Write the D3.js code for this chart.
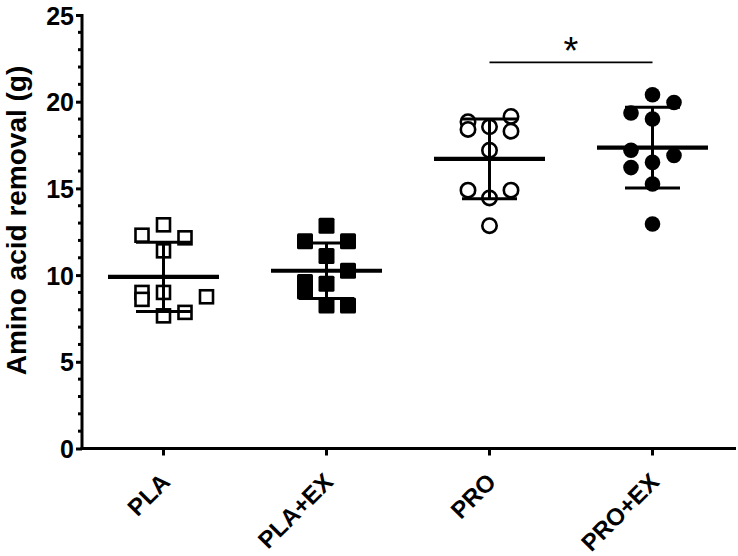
<!DOCTYPE html>
<html>
<head>
<meta charset="utf-8">
<script src="https://cdn.jsdelivr.net/npm/d3@7/dist/d3.min.js"></script>
<style>
  html, body { margin: 0; padding: 0; background: #fff; }
  svg { display: block; }
  text { font-family: Arial, "Liberation Sans", Helvetica, sans-serif; }
</style>
</head>
<body>
<svg id="chart" width="738" height="556"></svg>
<script>
// ---------- data ----------
const categories = ["PLA", "PLA+EX", "PRO", "PRO+EX"];
const plaValues   = [12.9, 12.3, 12.15, 11.4, 9.0, 9.0, 8.75, 8.6, 7.85, 7.65];
const plaLanes    = [0, -1, 1, 0, -1, 0, 2, -1, 1, 0];
const plaExValues = [12.85, 11.95, 11.95, 11.1, 10.25, 9.6, 9.05, 9.5, 8.25, 8.25];
const plaExLanes  = [0, -1, 1, 0, 1, -1, -1, 0, 0, 1];
const proValues   = [18.85, 19.15, 18.4, 18.55, 18.3, 17.2, 14.9, 14.9, 14.45, 12.85];
const proLanes    = [-1, 1, -1, 0, 1, 0, -1, 1, 0, 0];
const proExValues = [20.4, 19.95, 19.35, 19.0, 17.2, 16.9, 16.5, 16.2, 15.25, 12.95];
const proExLanes  = [0, 1, -1, 0, -1, 1, 0, -1, 0, 0];
const groupMeans  = [9.9, 10.25, 16.7, 17.35];
const groupSDs    = [2.0, 1.6, 2.3, 2.33];
const markerTypes = ["squareOpen", "squareFilled", "circleOpen", "circleFilled"];
const yTicks      = [0, 5, 10, 15, 20, 25];
const yLabel      = "Amino acid removal (g)";
const sigPair     = ["PRO", "PRO+EX"];
const sigLabel    = "*";

const groups = [
  { name: categories[0], values: plaValues,   lanes: plaLanes },
  { name: categories[1], values: plaExValues, lanes: plaExLanes },
  { name: categories[2], values: proValues,   lanes: proLanes },
  { name: categories[3], values: proExValues, lanes: proExLanes }
].map((g, i) => ({ ...g, mean: groupMeans[i], sd: groupSDs[i], marker: markerTypes[i] }));

// ---------- layout ----------
const svg = d3.select("#chart");
const plotLeft = 82, plotRight = 734, plotTop = 15, plotBottom = 448.5;

const x = d3.scaleBand().domain(categories).range([plotLeft, plotRight]);
const lane = d3.scaleLinear().domain([-1, 1]).range([-21.5, 21.5]);
const y = d3.scaleLinear().domain([0, 25]).range([plotBottom, plotTop]);
const cx = c => x(c) + x.bandwidth() / 2;

// ---------- axes ----------
const yAxis = d3.axisLeft(y).tickValues(yTicks).tickSize(6).tickSizeOuter(0).tickPadding(2);
const gy = svg.append("g").attr("transform", `translate(${plotLeft},0)`).call(yAxis);
gy.select(".domain").attr("stroke", "#000").attr("stroke-width", 3)
  .attr("d", `M0,${plotTop - 1}V${plotBottom + 1.5}`);
gy.selectAll(".tick line").attr("stroke", "#000").attr("stroke-width", 3);
gy.selectAll(".tick text").attr("font-size", 25).attr("font-weight", "bold").attr("fill", "#000")
  .attr("dy", "0.36em");

// minor ticks
const minorTicks = d3.range(0, 26).filter(v => !yTicks.includes(v));
svg.append("g").selectAll("line").data(minorTicks).join("line")
  .attr("x1", plotLeft - 4).attr("x2", plotLeft)
  .attr("y1", d => y(d)).attr("y2", d => y(d))
  .attr("stroke", "#000").attr("stroke-width", 3);

const xAxis = d3.axisBottom(x).tickSize(7).tickSizeOuter(0).tickFormat("");
const gx = svg.append("g").attr("transform", `translate(0,${plotBottom})`).call(xAxis);
gx.select(".domain").attr("stroke", "#000").attr("stroke-width", 3)
  .attr("d", `M${plotLeft - 1.5},0H${plotRight + 2}`);
gx.selectAll(".tick line").attr("stroke", "#000").attr("stroke-width", 3);

// rotated category labels
svg.append("g").selectAll("text").data(categories).join("text")
  .attr("transform", d => `translate(${cx(d) + 8},${plotBottom + 35}) rotate(-45)`)
  .attr("text-anchor", "end")
  .attr("font-size", 24).attr("font-weight", "bold").attr("fill", "#000")
  .text(d => d);

// y label
svg.append("text")
  .attr("transform", `translate(26,${(65 + 376) / 2}) rotate(-90)`)
  .attr("text-anchor", "middle")
  .attr("font-size", 28).attr("font-weight", "bold")
  .text(yLabel);

// ---------- points ----------
const sqOpen = 13, sqFilled = 16, rOpen = 7.2, rFilled = 7.8;
groups.forEach(g => {
  const pts = g.values.map((v, i) => ({ v, l: g.lanes[i] }));
  const gg = svg.append("g");
  if (g.marker === "squareOpen") {
    gg.selectAll("rect").data(pts).join("rect")
      .attr("x", d => cx(g.name) + lane(d.l) - sqOpen / 2)
      .attr("y", d => y(d.v) - sqOpen / 2)
      .attr("width", sqOpen).attr("height", sqOpen)
      .attr("fill", "#fff").attr("stroke", "#000").attr("stroke-width", 2.6);
  } else if (g.marker === "squareFilled") {
    gg.selectAll("rect").data(pts).join("rect")
      .attr("x", d => cx(g.name) + lane(d.l) - sqFilled / 2)
      .attr("y", d => y(d.v) - sqFilled / 2)
      .attr("width", sqFilled).attr("height", sqFilled)
      .attr("rx", 1.5)
      .attr("fill", "#000");
  } else if (g.marker === "circleOpen") {
    gg.selectAll("circle").data(pts).join("circle")
      .attr("cx", d => cx(g.name) + lane(d.l))
      .attr("cy", d => y(d.v))
      .attr("r", rOpen)
      .attr("fill", "#fff").attr("stroke", "#000").attr("stroke-width", 2.6);
  } else {
    gg.selectAll("circle").data(pts).join("circle")
      .attr("cx", d => cx(g.name) + lane(d.l))
      .attr("cy", d => y(d.v))
      .attr("r", rFilled)
      .attr("fill", "#000");
  }
});

// ---------- mean & SD ----------
const meanHalf = 55.5, capHalf = 27.5;
const stat = svg.append("g");
groups.forEach(g => {
  const c = cx(g.name);
  stat.append("line").attr("x1", c).attr("x2", c)
    .attr("y1", y(g.mean + g.sd)).attr("y2", y(g.mean - g.sd))
    .attr("stroke", "#000").attr("stroke-width", 3);
  [g.mean + g.sd, g.mean - g.sd].forEach(v => {
    stat.append("line").attr("x1", c - capHalf).attr("x2", c + capHalf)
      .attr("y1", y(v)).attr("y2", y(v))
      .attr("stroke", "#000").attr("stroke-width", 3);
  });
  stat.append("line").attr("x1", c - meanHalf).attr("x2", c + meanHalf)
    .attr("y1", y(g.mean)).attr("y2", y(g.mean))
    .attr("stroke", "#000").attr("stroke-width", 4.2);
});

// ---------- significance ----------
const sx1 = cx(sigPair[0]), sx2 = cx(sigPair[1]);
svg.append("line").attr("x1", sx1).attr("x2", sx2)
  .attr("y1", 62.3).attr("y2", 62.3)
  .attr("stroke", "#000").attr("stroke-width", 1.8);
svg.append("text").attr("x", (sx1 + sx2) / 2).attr("y", 64)
  .attr("text-anchor", "middle").attr("font-size", 38)
  .text(sigLabel);
</script>
</body>
</html>
